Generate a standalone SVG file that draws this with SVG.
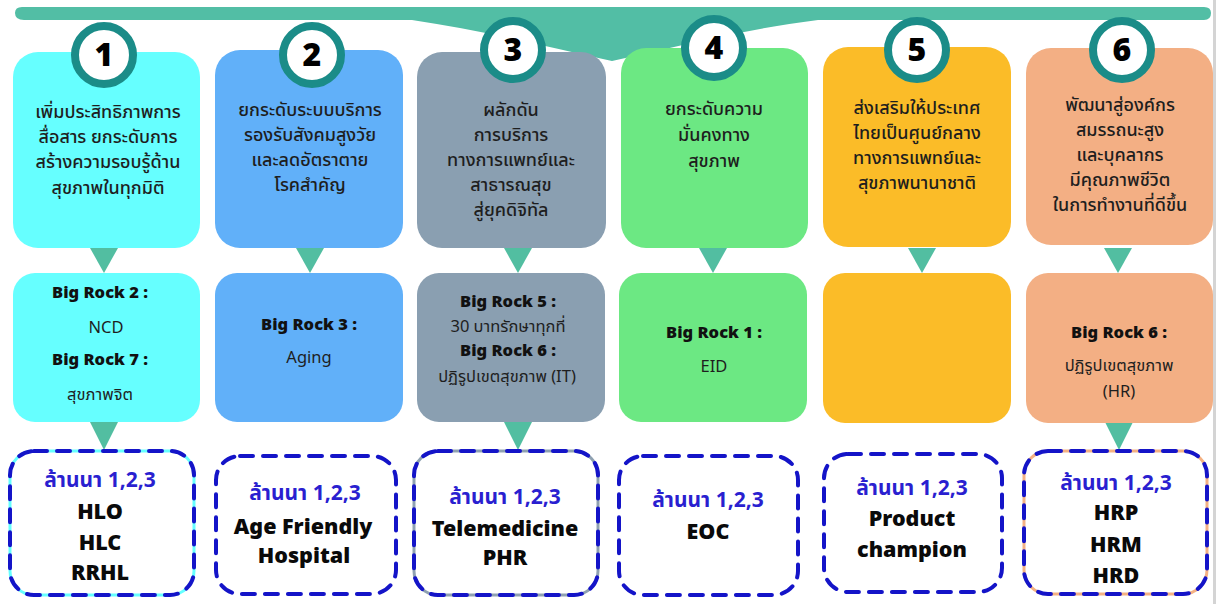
<svg xmlns="http://www.w3.org/2000/svg" width="1218" height="604" viewBox="0 0 1218 604">
<style>
.th{font-family:"Noto Sans Thai","Noto Sans","DejaVu Sans",sans-serif;font-size:18px;font-weight:500;fill:#1e1e1e;text-anchor:middle}
.br{font-family:"Noto Sans","Liberation Sans",sans-serif;font-size:16.5px;font-weight:900;fill:#111;text-anchor:middle}
.mt{font-family:"Noto Sans Thai","Noto Sans","DejaVu Sans",sans-serif;font-size:16.5px;fill:#1e1e1e;text-anchor:middle}
.ln{font-family:"Noto Sans Thai","Noto Sans","DejaVu Sans",sans-serif;font-size:21px;font-weight:bold;fill:#2a1fd0;text-anchor:middle}
.bk{font-family:"Noto Sans","Liberation Sans",sans-serif;font-size:21.5px;font-weight:900;fill:#0a0a0a;text-anchor:middle}
.num{font-family:"Noto Sans","Liberation Sans",sans-serif;font-size:32px;font-weight:900;fill:#000;text-anchor:middle}
.ring{fill:#fff;stroke:#1b8c88;stroke-width:8}
.dash{fill:none;stroke:#1414c8;stroke-width:4;stroke-dasharray:13 10;stroke-linecap:round}
.tri{fill:#52bea1}
</style>
<rect x="1213" y="0" width="3" height="604" fill="#d4d4d4"/>
<path id="banner" d="M22,7 H1204 Q1211,7 1211,13 Q1211,20 1204,20 H818 C740,30 680,46 612,61 C545,46 480,30 412,20 H24 Q15,20 15,13 Q15,7 22,7 Z" fill="#52bea5"/>
<g id="connectors">
<polygon class="tri" points="90,248 118,248 104,273"/>
<polygon class="tri" points="296,248 324,248 310,273"/>
<polygon class="tri" points="504,248 532,248 518,273"/>
<polygon class="tri" points="699,248 727,248 713,273"/>
<polygon class="tri" points="908,248 936,248 922,273"/>
<polygon class="tri" points="1104,248 1132,248 1118,273"/>
<polygon class="tri" points="90,422 118,422 104,450"/>
<polygon class="tri" points="504,422 532,422 518,450"/>
<polygon class="tri" points="1105,422 1133,422 1119,450"/>
</g>
<g id="col1">
<rect x="13" y="52" width="187" height="196" rx="25" fill="#66ffff"/>
<circle class="ring" cx="104" cy="55" r="29"/>
<text class="num" x="104" y="66">1</text>
<text class="th" x="108" y="118">เพิ่มประสิทธิภาพการ</text>
<text class="th" x="108" y="143">สื่อสาร ยกระดับการ</text>
<text class="th" x="108" y="168">สร้างความรอบรู้ด้าน</text>
<text class="th" x="108" y="194">สุขภาพในทุกมิติ</text>
</g>
<g id="rock1">
<rect x="13" y="273" width="187" height="149" rx="22" fill="#66ffff"/>
<text class="br" x="100" y="298">Big Rock 2 :</text>
<text class="mt" x="106" y="333">NCD</text>
<text class="br" x="100" y="365">Big Rock 7 :</text>
<text class="mt" x="100" y="400">สุขภาพจิต</text>
</g>
<g id="out1">
<rect x="10" y="451" width="184" height="144" rx="24" fill="#fff" stroke="#66ffff" stroke-width="3"/>
<rect class="dash" x="10" y="451" width="184" height="144" rx="24"/>
<text class="ln" x="100" y="487">ล้านนา 1,2,3</text>
<text class="bk" x="100" y="519">HLO</text>
<text class="bk" x="100" y="550">HLC</text>
<text class="bk" x="100" y="580">RRHL</text>
</g>
<g id="col2">
<rect x="215" y="50" width="188" height="198" rx="25" fill="#61b0f9"/>
<circle class="ring" cx="312" cy="55" r="29"/>
<text class="num" x="312" y="66">2</text>
<text class="th" x="310" y="116">ยกระดับระบบบริการ</text>
<text class="th" x="310" y="141">รองรับสังคมสูงวัย</text>
<text class="th" x="310" y="166">และลดอัตราตาย</text>
<text class="th" x="310" y="191">โรคสำคัญ</text>
</g>
<g id="rock2">
<rect x="215" y="273" width="188" height="149" rx="22" fill="#61b0f9"/>
<text class="br" x="309" y="330">Big Rock 3 :</text>
<text class="mt" x="309" y="363">Aging</text>
</g>
<g id="out2">
<rect class="dash" x="216" y="456" width="180" height="138" rx="24"/>
<text class="ln" x="305" y="500">ล้านนา 1,2,3</text>
<text class="bk" x="303" y="534">Age Friendly</text>
<text class="bk" x="304" y="563">Hospital</text>
</g>
<g id="col3">
<rect x="417" y="52" width="189" height="196" rx="25" fill="#8a9fb1"/>
<circle class="ring" cx="513" cy="50" r="29"/>
<text class="num" x="513" y="61">3</text>
<text class="th" x="511" y="116">ผลักดัน</text>
<text class="th" x="511" y="141">การบริการ</text>
<text class="th" x="511" y="166">ทางการแพทย์และ</text>
<text class="th" x="511" y="191">สาธารณสุข</text>
<text class="th" x="511" y="216">สู่ยุคดิจิทัล</text>
</g>
<g id="rock3">
<rect x="417" y="273" width="188" height="149" rx="22" fill="#8a9fb1"/>
<text class="br" x="508" y="307">Big Rock 5 :</text>
<text class="mt" x="508" y="332">30 บาทรักษาทุกที่</text>
<text class="br" x="508" y="356">Big Rock 6 :</text>
<text class="mt" x="507" y="382">ปฏิรูปเขตสุขภาพ (IT)</text>
</g>
<g id="out3">
<rect x="414" y="451" width="184" height="144" rx="24" fill="#fff" stroke="#8fa1b1" stroke-width="3"/>
<rect class="dash" x="414" y="451" width="184" height="144" rx="24"/>
<text class="ln" x="505" y="504">ล้านนา 1,2,3</text>
<text class="bk" x="505" y="536">Telemedicine</text>
<text class="bk" x="505" y="565">PHR</text>
</g>
<g id="col4">
<rect x="621" y="48" width="187" height="200" rx="25" fill="#6ce883"/>
<circle class="ring" cx="714" cy="48" r="29"/>
<text class="num" x="714" y="59">4</text>
<text class="th" x="714" y="115">ยกระดับความ</text>
<text class="th" x="714" y="141">มั่นคงทาง</text>
<text class="th" x="714" y="167">สุขภาพ</text>
</g>
<g id="rock4">
<rect x="619" y="273" width="188" height="149" rx="22" fill="#6ce883"/>
<text class="br" x="714" y="338">Big Rock 1 :</text>
<text class="mt" x="714" y="372">EID</text>
</g>
<g id="out4">
<rect class="dash" x="619" y="456" width="179" height="139" rx="24"/>
<text class="ln" x="708" y="507">ล้านนา 1,2,3</text>
<text class="bk" x="708" y="539">EOC</text>
</g>
<g id="col5">
<rect x="823" y="47" width="188" height="200" rx="25" fill="#fbbc28"/>
<circle class="ring" cx="917" cy="50" r="29"/>
<text class="num" x="917" y="61">5</text>
<text class="th" x="917" y="114">ส่งเสริมให้ประเทศ</text>
<text class="th" x="917" y="139">ไทยเป็นศูนย์กลาง</text>
<text class="th" x="917" y="164">ทางการแพทย์และ</text>
<text class="th" x="917" y="189">สุขภาพนานาชาติ</text>
</g>
<g id="rock5">
<rect x="823" y="273" width="188" height="150" rx="22" fill="#fbbc28"/>
</g>
<g id="out5">
<rect class="dash" x="824" y="454" width="178" height="138" rx="24"/>
<text class="ln" x="912" y="495">ล้านนา 1,2,3</text>
<text class="bk" x="912" y="526">Product</text>
<text class="bk" x="912" y="557">champion</text>
</g>
<g id="col6">
<rect x="1026" y="48" width="187" height="197" rx="25" fill="#f3af84"/>
<circle class="ring" cx="1122" cy="50" r="29"/>
<text class="num" x="1122" y="61">6</text>
<text class="th" x="1120" y="111">พัฒนาสู่องค์กร</text>
<text class="th" x="1120" y="136">สมรรถนะสูง</text>
<text class="th" x="1120" y="161">และบุคลากร</text>
<text class="th" x="1120" y="186">มีคุณภาพชีวิต</text>
<text class="th" x="1120" y="211">ในการทำงานที่ดีขึ้น</text>
</g>
<g id="rock6">
<rect x="1026" y="273" width="187" height="150" rx="22" fill="#f3af84"/>
<text class="br" x="1119" y="338">Big Rock 6 :</text>
<text class="mt" x="1119" y="371">ปฏิรูปเขตสุขภาพ</text>
<text class="mt" x="1119" y="397">(HR)</text>
</g>
<g id="out6">
<rect x="1024" y="451" width="183" height="143" rx="24" fill="#fff" stroke="#f4b183" stroke-width="3"/>
<rect class="dash" x="1024" y="451" width="183" height="143" rx="24"/>
<text class="ln" x="1116" y="490">ล้านนา 1,2,3</text>
<text class="bk" x="1116" y="520">HRP</text>
<text class="bk" x="1116" y="552">HRM</text>
<text class="bk" x="1116" y="583">HRD</text>
</g>
</svg>
